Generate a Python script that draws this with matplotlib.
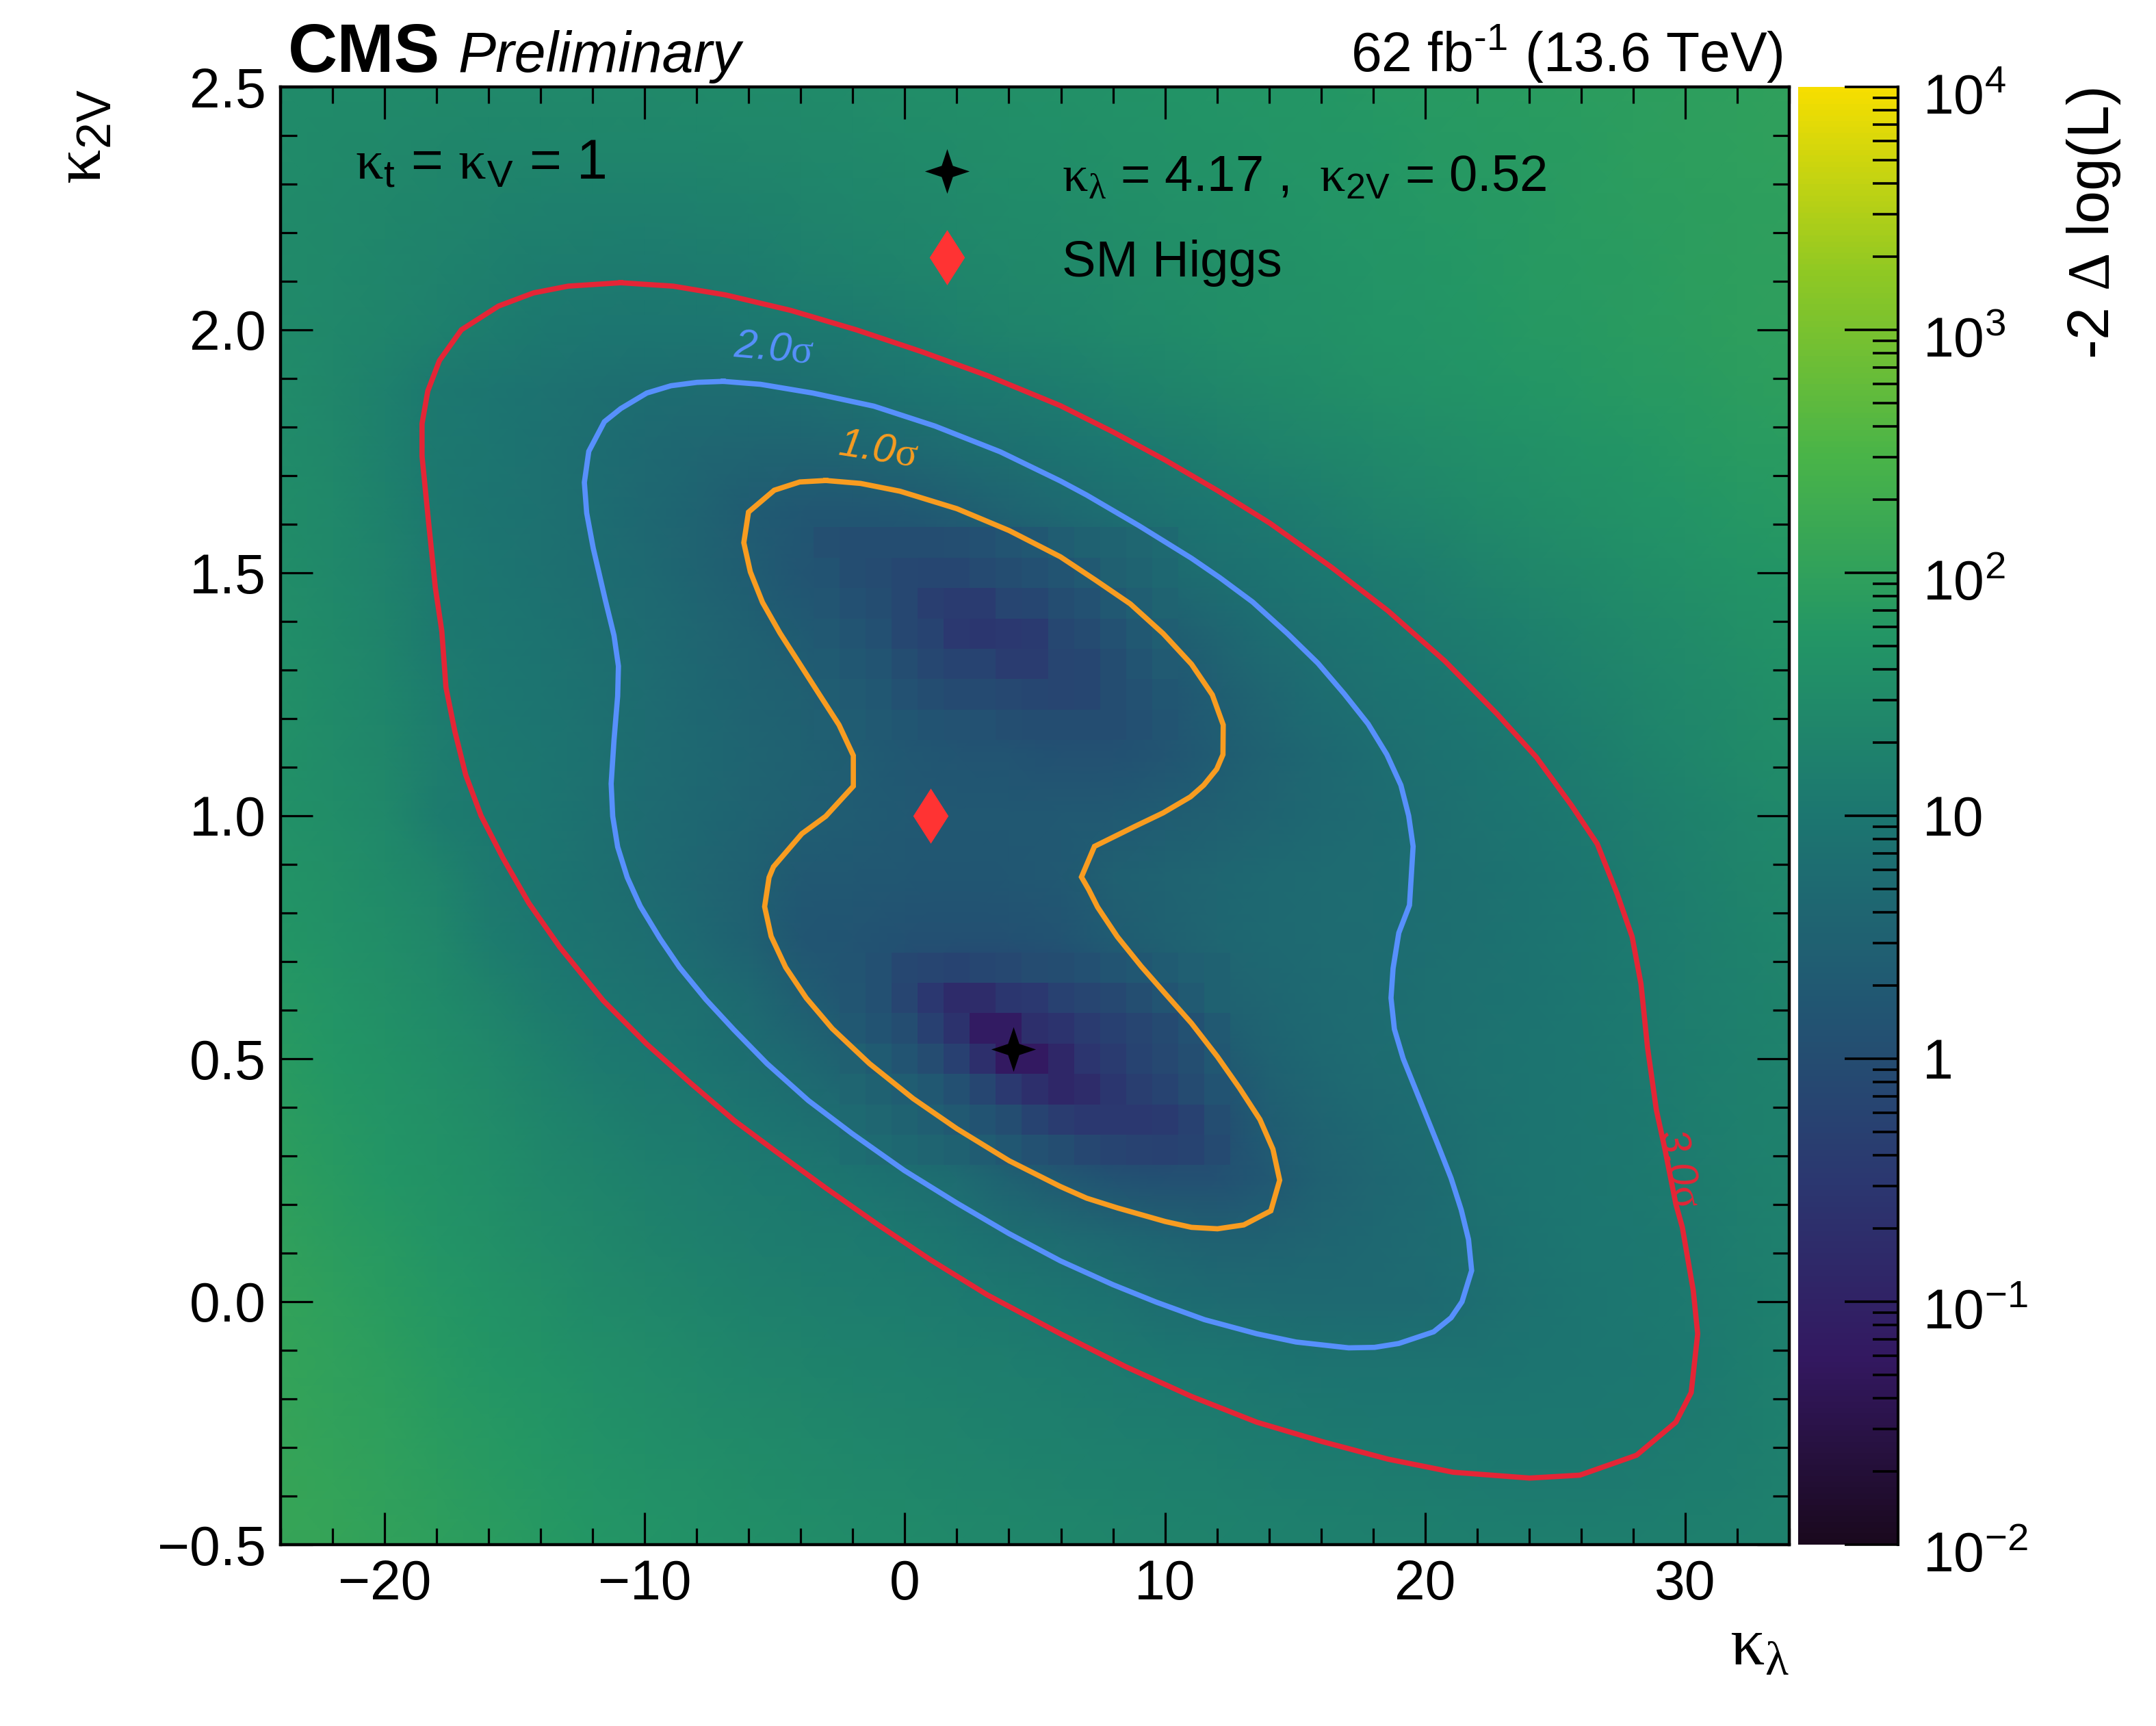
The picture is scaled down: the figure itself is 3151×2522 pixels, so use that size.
import numpy as np
import matplotlib
matplotlib.use("Agg")
import matplotlib.pyplot as plt
from matplotlib.colors import LinearSegmentedColormap, LogNorm
from matplotlib.ticker import FixedLocator, FixedFormatter, LogLocator, MultipleLocator, NullFormatter
from matplotlib.transforms import ScaledTranslation

plt.rcParams['font.family'] = ['Liberation Sans', 'DejaVu Sans']
plt.rcParams['mathtext.fontset'] = 'custom'
plt.rcParams['mathtext.rm'] = 'Liberation Sans'
plt.rcParams['mathtext.it'] = 'Liberation Sans:italic'
plt.rcParams['mathtext.bf'] = 'Liberation Sans:bold'
plt.rcParams['mathtext.sf'] = 'Liberation Sans'
plt.rcParams['mathtext.cal'] = 'Liberation Serif'
plt.rcParams['axes.unicode_minus'] = True

# ---------- data ----------
kl_nodes = [-24,-22,-20,-18,-16,-14,-12,-10,-8,-6,-4,-2,0,2,4,6,8,10,12,14,16,18,20,22,24,26,28,30,32,34]
k2v_nodes = [2.5,2.375,2.25,2.125,2.0,1.875,1.75,1.625,1.5,1.375,1.25,1.125,1.0,0.875,0.75,0.625,0.5,0.375,0.25,0.125,0.0,-0.125,-0.25,-0.375,-0.5]
dnll_nodes = [
[32,30,29,28,27,27,27,27,28,29,30,32,34,36,38,41,44,47,50,54,58,62,66,70,74,78,83,88,93,98],
[31,28,26,24,23,22,22,22,23,24,25,27,29,31,34,37,40,43,46,50,54,58,63,67,71,76,81,86,91,96],
[30,27,24,21,19,17,16,16,17,18,20,22,24,27,29,32,35,38,42,46,50,54,59,63,68,73,78,83,88,94],
[30,26,22,19,16,14,13,12.5,13,14,16,18,20,22,25,28,31,34,38,42,46,51,55,60,65,70,75,81,87,92],
[30,25,21,17.5,13.5,11,10,9.5,9.7,10.3,11.2,12,14,17,20,23,26,30,34,38,42,47,52,57,62,67,73,79,85,90],
[31,24,17,11.3,9.5,8,7,6.2,5.9,5.9,6.5,7.5,9,10.5,11.5,14,17,20,24,28,33,38,43,48,53,59,65,72,79,85],
[32,25,17.5,11,9.3,7.8,6.1,5,4.3,3.8,3.6,4,4.8,5.7,7,8.5,10.5,12.5,15.5,19,23,27,32,37,42,48,55,62,69,76],
[33,26,18,11.2,9.2,7.7,6,4.7,3.6,2.3,1.8,1.7,1.9,2.4,3.5,5,6.5,8,10,11.8,15,19,23,28,33,39,45,52,59,66],
[34,27,19,11.5,9.3,7.8,6.3,4.9,3.6,2.4,1.6,1.2,1.1,1.1,1.3,1.9,3.2,5.2,7,8.7,10.3,12.3,15,19,23.5,28,34,40,47,54],
[36,28,20,12,10,8.3,6.9,5.5,4.2,3,2.2,1.5,1,0.7,0.7,0.9,1.5,2.5,4,6.2,7.8,9.3,11.5,14,17.5,21.5,26,32,38,45],
[38,30,22,13.5,10.6,9,7.4,5.9,4.5,3.5,2.9,2,1.4,1,0.8,0.8,1,1.6,2.6,4.3,6,7.6,9.2,11.2,14,17.5,21.5,27,32,38],
[41,32,24,15,11,9.4,7.8,5.9,4.6,3.7,3,2.4,1.9,1.6,1.5,1.3,1.3,1.6,2.3,3.3,4.6,6.1,7.7,9.2,11.2,14.2,18,22.5,27.5,33],
[44,35,26,14,10.9,9.3,7.3,5.6,4.4,3.6,2.7,2.3,2,1.9,1.9,2,2.1,2.4,2.9,3.7,4.6,5.6,6.6,8,9.5,11.6,14.5,18,22.5,27],
[49,39,30,21,11.8,9.6,7.4,5.6,4.2,3,2,1.9,1.8,1.7,1.8,2,2.9,3.6,4.3,4.9,5.4,5.9,6.5,7.4,8.4,10,13,16,20,24],
[55,44,34,25,14,10,8,6.4,4.7,3,1.7,1.5,1.3,1.2,1.3,1.5,2.3,3.2,4.1,4.9,5.5,5.9,6.6,7.4,8.4,9.8,12.3,15,18,22],
[62,50,39,29,20,13,10,8,6.7,5,2.6,1.6,1,0.5,0.5,0.8,1.3,2.2,3.3,4.3,5.2,5.9,6.7,7.6,8.7,10,11.8,14.5,17,20],
[70,57,45,35,26,18,12.5,10.5,8.7,6.6,4.6,2.8,1.6,0.7,0.2,0.25,0.5,1,2,3.4,4.6,5.7,6.9,8,9,10.2,11.6,14,16.5,19],
[78,64,51,40,31,23,17,13.3,11.6,9.5,7.2,6.2,4.2,2.2,1.1,0.55,0.4,0.5,1,2.4,3.8,5,6.1,7.6,9,10,11.3,13.5,16,18.5],
[88,72,58,46,36,27,21,17,14.5,12.6,11,9,7.2,5.7,3.3,2.1,1.4,1.2,1.3,1.9,3.2,4.3,5.3,7.5,8.8,10,11,13,15.5,18],
[98,80,65,52,41,32,25,20,17,15,13.3,12.2,11,9,7,5.9,4.8,3.8,3.2,3.3,3.9,4.8,5.5,6.8,8.5,9.8,10.8,12,14.5,17],
[108,90,73,59,47,38,30,25,21,18.5,16.5,15,13.7,12.4,11.3,9.7,8,6.2,5.6,5.2,5,5,5.2,6.5,8,9.3,10.5,11.6,14,17],
[115,98,82,67,55,45,37,31,26,23,20,18.5,17,15.8,14.5,13,11.9,10.8,9.8,8.8,8.2,8,8,8.2,8.8,9.5,10.2,11.4,14,17],
[120,105,90,75,63,53,44,37,32,28,25,22.5,20.5,19,17.5,16,15,13.8,12.8,11.9,11.2,10.8,10.5,10.3,10.3,10.5,10.9,12,14,17],
[125,112,97,83,71,60,51,44,38,33.5,30,27,25,23,21,19.5,18,17,16,15,14.2,13.5,13,12.4,12,12,12.6,13.5,15,17.5],
[130,118,105,92,79,68,58,50,44,39,35,32,29,27,25,23.5,22,20.5,19,18,17,16.5,16,15.5,15.5,15.5,15.7,16,17,18.5],
]

# cells around the lower minimum
low_kl = [-2,-1,0,1,2,3,4,5,6,7,8,9,10,11,12]
low_k2v = [0.6875,0.625,0.5625,0.5,0.4375,0.375,0.3125]
low_cells = [
[1.5,1.2,0.75,0.65,0.6,0.7,0.8,0.95,1.0,1.2,1.5,1.8,2.2,2.7,3.2],
[1.6,1.2,0.65,0.32,0.16,0.17,0.3,0.33,0.55,0.65,0.8,1.1,1.5,2.1,3.0],
[1.9,1.4,1.0,0.5,0.24,0.07,0.07,0.2,0.25,0.38,0.5,0.65,0.85,1.3,2.0],
[2.8,2.2,1.5,0.95,0.5,0.2,0.06,0.06,0.13,0.28,0.38,0.6,0.8,1.1,1.8],
[4.0,3.2,2.5,1.9,1.2,0.7,0.35,0.2,0.13,0.17,0.3,0.45,0.6,0.9,1.4],
[5.0,4.2,3.4,2.6,2.0,1.4,1.0,0.6,0.42,0.33,0.33,0.33,0.36,0.55,1.0],
[6.0,5.2,4.4,3.7,3.0,2.3,1.8,1.3,1.0,0.75,0.62,0.58,0.55,0.6,0.85],
]

# cells around the upper minimum
up_kl = [-3,-2,-1,0,1,2,3,4,5,6,7,8,9,10]
up_k2v = [1.5625,1.5,1.4375,1.375,1.3125,1.25,1.1875]
up_cells = [
[1.15,1.05,1.05,1.05,1.05,1.1,1.2,1.5,1.8,2.4,3.0,3.6,4.3,5.0],
[1.4,1.0,0.9,0.75,0.7,0.7,0.85,1.05,1.2,1.5,2.0,2.8,3.5,4.4],
[1.6,1.2,1.0,0.75,0.45,0.38,0.38,0.65,0.7,1.0,1.3,1.9,2.6,3.5],
[1.9,1.5,1.2,0.75,0.6,0.33,0.3,0.33,0.36,0.75,0.9,1.3,1.9,2.6],
[2.2,1.8,1.5,1.0,0.75,0.6,0.6,0.42,0.42,0.65,0.7,1.0,1.5,2.1],
[2.5,2.1,1.8,1.3,1.0,0.85,0.85,0.8,0.7,0.65,0.72,1.0,1.25,1.7],
[2.7,2.3,2.0,1.7,1.4,1.35,1.3,1.1,1.0,1.0,1.0,1.05,1.2,1.5],
]

c3_kl = [-10.92,-8.91,-6.9,-4.38,-1.86,0.65,3.17,5.98,8.0,10.01,12.03,14.04,16.39,18.57,20.75,22.76,24.27,25.62,26.62,27.38,27.96,28.3,28.55,28.89,29.22,29.64,29.89,30.31,30.48,30.23,29.64,28.13,25.95,24.02,21.08,18.57,16.05,13.53,11.02,8.5,5.98,3.17,0.99,-1.02,-3.04,-4.88,-6.56,-8.24,-9.92,-11.6,-13.27,-14.45,-15.45,-16.29,-16.88,-17.3,-17.64,-17.8,-18.05,-18.31,-18.56,-18.56,-18.34,-17.89,-17.05,-15.62,-14.28,-12.94,-10.92]
c3_k2v = [2.097,2.09,2.072,2.04,2.0,1.955,1.906,1.844,1.79,1.732,1.669,1.602,1.512,1.422,1.319,1.21,1.121,1.022,0.942,0.84,0.751,0.654,0.524,0.395,0.314,0.201,0.153,0.023,-0.066,-0.187,-0.248,-0.316,-0.357,-0.363,-0.351,-0.324,-0.288,-0.248,-0.195,-0.134,-0.066,0.014,0.086,0.158,0.234,0.306,0.373,0.45,0.53,0.62,0.73,0.82,0.913,1.0,1.084,1.174,1.264,1.38,1.47,1.605,1.74,1.807,1.874,1.937,2.0,2.049,2.076,2.09,2.097]
c2_kl = [-6.98,-5.55,-3.54,-1.19,1.16,3.67,5.98,6.99,9.0,11.02,12.11,13.37,14.71,15.88,16.89,17.81,18.53,19.07,19.37,19.54,19.4,18.99,18.77,18.69,18.82,19.16,19.83,20.5,21.0,21.39,21.67,21.79,21.42,21.0,20.33,18.99,18.06,17.06,15.04,13.53,11.52,9.67,8.0,5.98,4.01,2.0,-0.02,-2.03,-3.71,-5.3,-6.56,-7.65,-8.66,-9.41,-10.17,-10.67,-11.04,-11.23,-11.29,-11.18,-11.04,-11.01,-11.18,-11.51,-11.98,-12.23,-12.32,-12.15,-11.55,-10.92,-9.92,-8.99,-7.99,-6.98]
c2_k2v = [1.894,1.888,1.87,1.843,1.802,1.749,1.689,1.66,1.597,1.53,1.49,1.44,1.375,1.314,1.251,1.189,1.126,1.063,1.0,0.937,0.816,0.759,0.686,0.625,0.561,0.5,0.411,0.322,0.254,0.189,0.128,0.064,0,-0.033,-0.062,-0.086,-0.094,-0.095,-0.083,-0.066,-0.037,-0.001,0.035,0.084,0.14,0.203,0.27,0.346,0.414,0.49,0.559,0.622,0.688,0.747,0.814,0.873,0.936,0.999,1.066,1.156,1.246,1.308,1.371,1.443,1.551,1.623,1.686,1.75,1.811,1.838,1.87,1.885,1.892,1.894]
c1_kl = [-3.04,-1.7,-0.19,2.0,4.01,5.98,7.33,8.67,9.93,11.02,11.82,12.24,12.23,11.99,11.49,10.98,9.93,8.84,7.29,6.79,7.07,7.41,8.17,9.09,10.01,11.02,12.02,12.86,13.65,14.15,14.41,14.07,13.03,12.02,11.02,10.01,8.17,6.99,5.98,4.01,2.0,0.32,-1.36,-2.79,-3.79,-4.58,-5.14,-5.39,-5.22,-5.05,-3.96,-3.04,-1.98,-1.98,-2.53,-3.29,-4.8,-5.47,-5.94,-6.19,-6.01,-5.02,-4.04,-3.04]
c1_k2v = [1.69,1.684,1.668,1.632,1.587,1.533,1.485,1.436,1.375,1.312,1.249,1.187,1.126,1.096,1.063,1.039,1.006,0.978,0.937,0.874,0.848,0.812,0.751,0.69,0.634,0.573,0.504,0.44,0.375,0.314,0.25,0.187,0.158,0.15,0.153,0.165,0.193,0.213,0.237,0.29,0.356,0.418,0.49,0.562,0.625,0.688,0.752,0.813,0.873,0.895,0.963,0.999,1.061,1.124,1.187,1.25,1.376,1.439,1.502,1.562,1.625,1.67,1.687,1.69]

best_kl, best_k2v = 4.17, 0.52
sm_kl, sm_k2v = 1.0, 1.0
cbar_ticks = [1e-2,1e-1,1,10,1e2,1e3,1e4]
cbar_labels = [r'10$^{\mathrm{-2}}$', r'10$^{\mathrm{-1}}$', '1', '10', r'10$^{\mathrm{2}}$', r'10$^{\mathrm{3}}$', r'10$^{\mathrm{4}}$']

# ---------- style ----------
W, H = 3151, 2522
L, R, T, B = 410, 2615, 127, 2257
fig = plt.figure(figsize=(W/100, H/100), dpi=100)
ax = fig.add_axes([L/W, 1-B/H, (R-L)/W, (B-T)/H])
cax = fig.add_axes([2628/W, 1-B/H, 146/W, (B-T)/H])
def P(x, y):
    return x/W, 1-y/H

vir = np.array([[26,9,30],[51,24,96],[43,55,112],[33,87,114],[28,118,112],[35,150,101],[74,180,72],[144,200,35],[246,222,0]])/255
cmap = LinearSegmentedColormap.from_list('rootviridis', vir, N=255)
norm = LogNorm(1e-2, 1e4)

X, Y = np.meshgrid(kl_nodes, k2v_nodes)
mesh = ax.pcolormesh(X, Y, np.array(dnll_nodes), cmap=cmap, norm=norm, shading='gouraud', zorder=1)

def cell_edges(centers):
    c = np.asarray(centers, float)
    step = c[1]-c[0]
    return np.append(c-step/2, c[-1]+step/2)
ax.pcolormesh(cell_edges(low_kl), cell_edges(low_k2v), np.array(low_cells), cmap=cmap, norm=norm, shading='flat', zorder=1.5, linewidth=0, edgecolors='none', antialiased=False)
ax.pcolormesh(cell_edges(up_kl), cell_edges(up_k2v), np.array(up_cells), cmap=cmap, norm=norm, shading='flat', zorder=1.5, linewidth=0, edgecolors='none', antialiased=False)

lw = 5.5
RED, BLUE, ORANGE = '#e42536', '#5790fc', '#f89c20'
ax.plot(c3_kl, c3_k2v, color=RED, lw=lw, zorder=3, solid_joinstyle='miter')
ax.plot(c2_kl, c2_k2v, color=BLUE, lw=lw, zorder=3, solid_joinstyle='miter')
ax.plot(c1_kl, c1_k2v, color=ORANGE, lw=lw, zorder=3, solid_joinstyle='miter')

star = [(1,0),(.25,.25),(0,1),(-.25,.25),(-1,0),(-.25,-.25),(0,-1),(.25,-.25),(1,0)]
diam = [(0,1),(.64,0),(0,-1),(-.64,0),(0,1)]
ax.plot([best_kl],[best_k2v], ls='none', marker=star, ms=47, color='k', mew=0, zorder=4)
ax.plot([sm_kl],[sm_k2v], ls='none', marker=diam, ms=58, color='#ff3333', mew=0, zorder=4)
ax.plot([0.4417],[0.9423], ls='none', marker=star, ms=47, color='k', mew=0, zorder=4, transform=ax.transAxes)
ax.plot([0.4417],[0.8831], ls='none', marker=diam, ms=58, color='#ff3333', mew=0, zorder=4, transform=ax.transAxes)

lab = dict(fontsize=43, fontstyle='italic', ha='center', va='center', zorder=5, rotation_mode='anchor')
ax.text(-5.05, 1.96, r'2.0$\mathcal{σ}$', color=BLUE, rotation=-5, **lab)
ax.text(-1.02, 1.753, r'1.0$\mathcal{σ}$', color=ORANGE, rotation=-9, **lab)
ax.text(29.75, 0.274, r'3.0$\mathcal{σ}$', color=RED, rotation=-78, **lab)

ax.set_xlim(-24, 34)
ax.set_ylim(-0.5, 2.5)
ax.xaxis.set_major_locator(MultipleLocator(10))
ax.xaxis.set_minor_locator(MultipleLocator(2))
ax.yaxis.set_major_locator(MultipleLocator(0.5))
ax.yaxis.set_minor_locator(MultipleLocator(0.1))
ax.tick_params(which='both', direction='in', top=True, right=True, width=2.3, zorder=6)
ax.tick_params(which='major', length=34, labelsize=58)
ax.tick_params(which='minor', length=17)
ax.tick_params(axis='x', which='major', pad=15)
ax.tick_params(axis='y', which='major', pad=15)
for s in ax.spines.values():
    s.set_linewidth(3.2)
    s.set_zorder(7)

cb = fig.colorbar(mesh, cax=cax)
cb.outline.set_visible(False)
cax.spines['right'].set_visible(True)
cax.spines['right'].set_linewidth(3.0)
cax.yaxis.set_major_locator(FixedLocator(cbar_ticks))
cax.yaxis.set_major_formatter(FixedFormatter(cbar_labels))
cax.yaxis.set_minor_locator(LogLocator(10, subs=(2,3,4,5,6,7,8,9), numticks=20))
cax.yaxis.set_minor_formatter(NullFormatter())
cax.tick_params(axis='y', which='both', direction='in', right=True, left=False, labelright=True, width=2.6)
cax.tick_params(axis='y', which='major', length=56, labelsize=58, pad=26)
cax.tick_params(axis='y', which='minor', length=27)
fig.canvas.draw()
shift = ScaledTranslation(0, -7/72, fig.dpi_scale_trans)
for tick, txt in zip(cax.yaxis.get_major_ticks(), cbar_labels):
    if '$' in txt:
        tick.label2.set_transform(tick.label2.get_transform() + shift)

# ---------- text ----------
fig.text(*P(421,105), 'CMS', fontsize=72, fontweight='bold', ha='left', va='baseline')
fig.text(*P(669,105), 'Preliminary', fontsize=59.5, fontstyle='italic', ha='left', va='baseline')
fig.text(*P(2606,104), r'62 fb$^{\text{-1}}$ (13.6 TeV)', fontsize=58, ha='right', va='baseline')
fig.text(*P(519,262), r'$\mathcal{κ}_{\mathrm{t}}$ = $\mathcal{κ}_{\mathrm{V}}$ = 1', fontsize=58, ha='left', va='baseline')
fig.text(*P(1552,279), r'$\mathcal{κ}_{\mathcal{λ}}$ = 4.17 ,  $\mathcal{κ}_{\mathrm{2V}}$ = 0.52', fontsize=53.5, ha='left', va='baseline')
fig.text(*P(1552,404), 'SM Higgs', fontsize=53.5, ha='left', va='baseline')
fig.text(*P(2615,2432), r'$\mathcal{κ}_{\mathcal{λ}}$', fontsize=72, ha='right', va='baseline')
fig.text(*P(147,130), r'$\mathcal{κ}_{\mathrm{2V}}$', fontsize=72, rotation=90, ha='right', va='baseline', rotation_mode='anchor')
fig.text(*P(3082,128), r'-2 $\mathcal{Δ}$ log(L)', fontsize=62, rotation=90, ha='right', va='baseline', rotation_mode='anchor')

fig.savefig('out.png', dpi=100)
